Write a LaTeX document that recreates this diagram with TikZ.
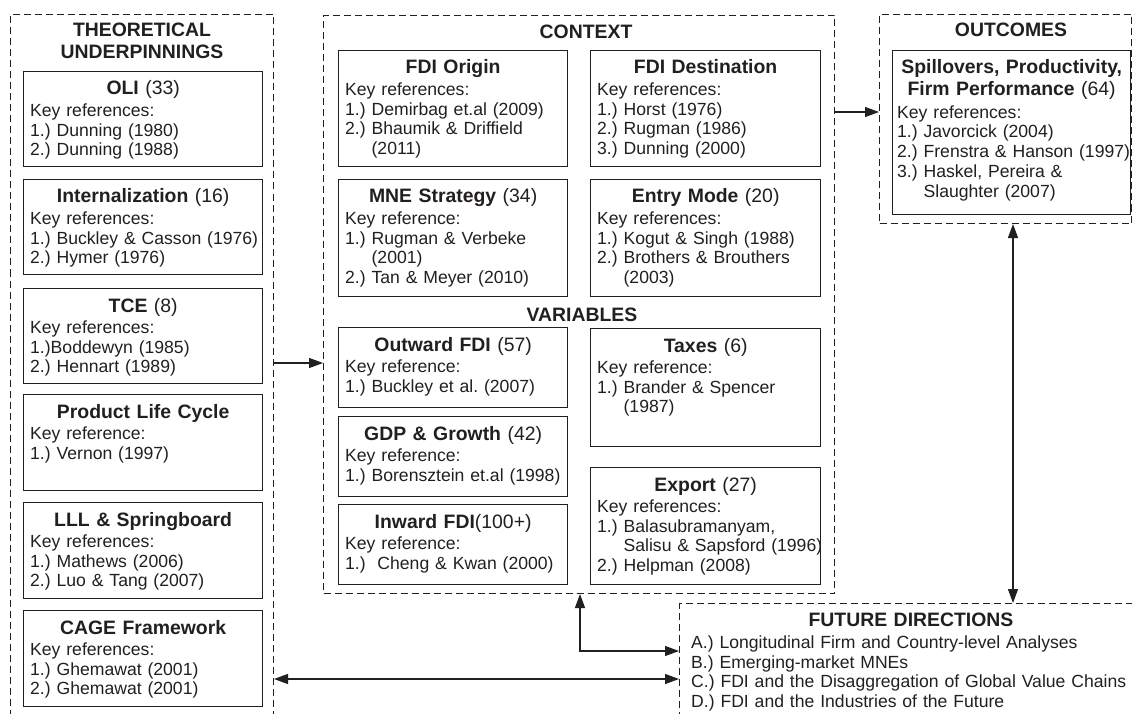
\documentclass[tikz,border=0pt]{standalone}
\usepackage{fontspec}
\setmainfont{Liberation Sans}
\usetikzlibrary{arrows.meta}
\definecolor{ink}{HTML}{231F20}
\frenchspacing
\tikzset{
  box/.style={draw=ink, line width=1.3pt, rectangle, inner sep=0pt},
  dbox/.style={draw=ink, line width=1pt, dash pattern=on 7pt off 4pt, rectangle, inner sep=0pt},
  ttl/.style={font=\fontsize{19.4}{22}\selectfont\frenchspacing, text=ink, inner sep=0pt, align=center},
  sect/.style={font=\fontsize{19.4}{22}\selectfont\bfseries, text=ink, inner sep=0pt, text width=300pt, align=center},
  bdy/.style={font=\fontsize{17.6}{19.7}\selectfont\frenchspacing, text=ink, inner sep=0pt, text width=520pt, align=left},
  arr/.style={draw=ink, line width=1.2pt, -{Triangle[length=14pt,width=10pt]}},
  darr/.style={draw=ink, line width=1.2pt, {Triangle[length=14pt,width=10pt]}-{Triangle[length=14pt,width=10pt]}},
}
\newcommand\rbox[7]{%
  \node[box, anchor=north west, minimum width=#4pt, minimum height=#5pt] (#1) at (#2,#3) {};
  \node[ttl, text width=#4pt, anchor=base] (#1t) at ([yshift=-24pt]#1.north) {#6};
  \node[bdy, anchor=base west] (#1b) at ([xshift=7pt,yshift=-45.5pt]#1.north west) {#7};
}
\newcommand\ind[1]{\hphantom{#1~}}
\begin{document}
\begin{tikzpicture}[x=1pt,y=-1pt]
\useasboundingbox (0,0) rectangle (1132,714);
\fill[white] (0,0) rectangle (1132,714);

% dashed groups
\node[dbox, anchor=north west, minimum width=263pt, minimum height=726pt] (theo) at (10,14) {};
\node[dbox, anchor=north west, minimum width=511pt, minimum height=578pt] (ctx) at (323,15) {};
\node[dbox, anchor=north west, minimum width=252pt, minimum height=209pt] (outc) at (879,14) {};
\node[dbox, anchor=north west, minimum width=470pt, minimum height=140pt] (fut) at (679,603) {};

% section titles
\node[sect, anchor=base] (theot) at (142,37) {THEORETICAL\\UNDERPINNINGS};
\node[sect, anchor=base] (ctxt) at (586,39) {CONTEXT};
\node[sect, anchor=base] (vart) at (582,321) {VARIABLES};
\node[sect, anchor=base] (outct) at (1011,37) {OUTCOMES};
\node[sect, anchor=base] (futt) at (911,626) {FUTURE DIRECTIONS};

% theoretical boxes
\rbox{oli}{23}{71}{239}{95}{\textbf{OLI} (33)}{Key references:\\1.) Dunning (1980)\\2.) Dunning (1988)}
\rbox{intl}{23}{179}{239}{95}{\textbf{Internalization} (16)}{Key references:\\1.) Buckley \& Casson (1976)\\2.) Hymer (1976)}
\rbox{tce}{23}{288}{239}{95}{\textbf{TCE} (8)}{Key references:\\1.)Boddewyn (1985)\\2.) Hennart (1989)}
\rbox{plc}{23}{394}{239}{96}{\textbf{Product Life Cycle}}{Key reference:\\1.) Vernon (1997)}
\rbox{lll}{23}{502}{239}{96}{\textbf{LLL \& Springboard}}{Key references:\\1.) Mathews (2006)\\2.) Luo \& Tang (2007)}
\rbox{cage}{23}{610}{239}{96}{\textbf{CAGE Framework}}{Key references:\\1.) Ghemawat (2001)\\2.) Ghemawat (2001)}

% context boxes
\rbox{orig}{338}{50}{229}{116}{\textbf{FDI Origin}}{Key references:\\1.) Demirbag et.al (2009)\\2.) Bhaumik \& Driffield\\\ind{2.)}(2011)}
\rbox{dest}{590}{50}{230}{116}{\textbf{FDI Destination}}{Key references:\\1.) Horst (1976)\\2.) Rugman (1986)\\3.) Dunning (2000)}
\rbox{mne}{338}{179}{229}{117}{\textbf{MNE Strategy} (34)}{Key reference:\\1.) Rugman \& Verbeke\\\ind{1.)}(2001)\\2.) Tan \& Meyer (2010)}
\rbox{entry}{590}{179}{230}{117}{\textbf{Entry Mode} (20)}{Key references:\\1.) Kogut \& Singh (1988)\\2.) Brothers \& Brouthers\\\ind{2.)}(2003)}

% variables boxes
\rbox{outw}{338}{327}{229}{80}{\textbf{Outward FDI} (57)}{Key reference:\\1.) Buckley et al. (2007)}
\rbox{gdp}{338}{416}{229}{80}{\textbf{GDP \& Growth} (42)}{Key reference:\\1.) Borensztein et.al (1998)}
\rbox{inw}{338}{504}{229}{80}{\textbf{Inward FDI}(100+)}{Key reference:\\1.)\ \ Cheng \& Kwan (2000)}
\rbox{tax}{590}{328}{230}{118}{\textbf{Taxes} (6)}{Key reference:\\1.) Brander \& Spencer\\\ind{1.)}(1987)}
\rbox{exp}{590}{467}{230}{117}{\textbf{Export} (27)}{Key references:\\1.) Balasubramanyam,\\\ind{1.)}Salisu \& Sapsford (1996)\\2.) Helpman (2008)}

% outcomes box
\node[box, anchor=north west, minimum width=238pt, minimum height=164pt] (spill) at (892,50) {};
\node[ttl, text width=238pt, anchor=base] (spillt) at ([yshift=-24pt]spill.north) {\textbf{Spillovers, Productivity,}\\\textbf{Firm Performance} (64)};
\node[bdy, anchor=base west] (spillb) at ([xshift=5pt,yshift=-68.3pt]spill.north west) {Key references:\\1.) Javorcick (2004)\\2.) Frenstra \& Hanson (1997)\\3.) Haskel, Pereira \&\\\ind{3.)}Slaughter (2007)};

% future directions text
\node[bdy, anchor=base west] (futb) at (691,648.3) {A.) Longitudinal Firm and Country-level Analyses\\B.) Emerging-market MNEs\\C.) FDI and the Disaggregation of Global Value Chains\\D.) FDI and the Industries of the Future};

% connectors
\coordinate (y1) at (0,363);
\coordinate (y2) at (0,112);
\coordinate (x3) at (1013,0);
\coordinate (x4) at (580,0);
\coordinate (y4) at (0,651);
\coordinate (y5) at (0,679);
\draw[arr] (theo.east |- y1) -- (ctx.west |- y1);
\draw[arr] (ctx.east |- y2) -- (outc.west |- y2);
\draw[darr] (outc.south -| x3) -- (fut.north -| x3);
\draw[darr] (ctx.south -| x4) -- (x4 |- y4) -- (fut.west |- y4);
\draw[darr] (theo.east |- y5) -- (fut.west |- y5);
\end{tikzpicture}
\end{document}
